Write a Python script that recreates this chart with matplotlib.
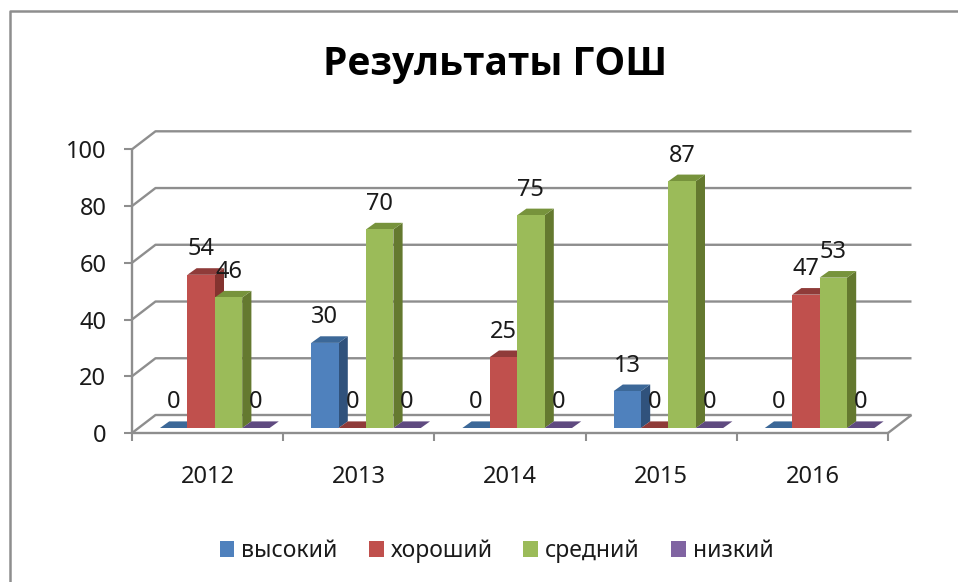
import matplotlib
matplotlib.use("Agg")
import matplotlib.pyplot as plt
from matplotlib.patches import Polygon, Patch
from matplotlib.lines import Line2D

plt.rcParams['font.family'] = ['Noto Sans', 'DejaVu Sans']

title = "Результаты ГОШ"
years = ["2012", "2013", "2014", "2015", "2016"]
series_names = ["высокий", "хороший", "средний", "низкий"]
vysokiy = [0, 30, 0, 13, 0]
horoshiy = [54, 0, 25, 0, 47]
sredniy = [46, 70, 75, 87, 53]
nizkiy = [0, 0, 0, 0, 0]
yticks = [0, 20, 40, 60, 80, 100]

front_colors = ["#4f81bd", "#c0504d", "#9bbb59", "#8064a2"]
top_colors = ["#3c6898", "#8f3b39", "#77933c", "#5f4a80"]
side_colors = ["#30527c", "#84332f", "#64792f", "#4f3d6b"]
line_gray = "#8e8e8e"
text_color = "#1a1a1a"

W, H = 958, 582
fig = plt.figure(figsize=(W / 100, H / 100), dpi=100, facecolor="white")

# axes box is the front of the fake 3D floor, in pixels of the reference
x0, x1, y0, y100 = 132, 888, 433, 149.3
ax = fig.add_axes([x0 / W, (H - y0) / H, (x1 - x0) / W, (y0 - y100) / H])
ax.set_xlim(0, len(years))
ax.set_ylim(0, 100)
ax.patch.set_visible(False)
for name, spine in ax.spines.items():
    spine.set_visible(False)

px_x = len(years) / (x1 - x0)   # data units per pixel
px_y = 100 / (y0 - y100)

# depth of the chart wall and of each bar
wall_dx, wall_dy = 23.5 * px_x, 18 * px_y
bar_dx, bar_dy = 9.2 * px_x, 6.6 * px_y
bar_w = 27.4 * px_x
first_bar = 28 * px_x
base_y = 5 * px_y

# walls and axes
line_kw = dict(color=line_gray, lw=1.7, clip_on=False, solid_capstyle="butt")
for v in yticks:
    ax.plot([0, wall_dx, len(years) + wall_dx], [v, v + wall_dy, v + wall_dy], zorder=1, **line_kw)
ax.plot([len(years), len(years) + wall_dx], [0, wall_dy], zorder=1, **line_kw)
ax.plot([0, 0], [0, 100], zorder=1, **line_kw)
ax.plot([0, len(years)], [0, 0], zorder=1, **line_kw)

ax.set_yticks(yticks)
ax.set_xticks(range(len(years) + 1))
ax.set_xticklabels([])
ax.tick_params(axis="both", length=6, width=1.5, color=line_gray, labelcolor=text_color,
               labelsize=17, pad=12.5)

# year labels sit between the ticks
for i, year in enumerate(years):
    ax.annotate(year, (i + 0.5, 0), xytext=(0, -44), textcoords="offset pixels",
                ha="center", va="center", fontsize=17, color=text_color)

# bars
all_series = [vysokiy, horoshiy, sredniy, nizkiy]
z = 3
for i in range(len(years)):
    for s, values in enumerate(all_series):
        v = values[i]
        left = i + first_bar + s * bar_w
        right = left + bar_w
        bottom = base_y
        top = base_y + v
        side = [(right, bottom), (right + bar_dx, bottom + bar_dy),
                (right + bar_dx, top + bar_dy), (right, top)]
        lid = [(left, top), (left + bar_dx, top + bar_dy),
               (right + bar_dx, top + bar_dy), (right, top)]
        ax.add_patch(Polygon(side, fc=side_colors[s], ec="none", zorder=z, clip_on=False))
        ax.add_patch(Polygon(lid, fc=top_colors[s], ec="none", zorder=z, clip_on=False))
        ax.bar(left, v, bar_w, bottom=bottom, align="edge", color=front_colors[s], zorder=z, clip_on=False)
        z += 1

# value labels, on top of all bars
for i in range(len(years)):
    for s, values in enumerate(all_series):
        v = values[i]
        center = i + first_bar + (s + 0.5) * bar_w
        ax.text(center, base_y + v + 25.5 * px_y, str(v), ha="center", va="center",
                fontsize=17, color=text_color, zorder=100, clip_on=False)

fig.text(495 / W, 1 - 65 / H, title, ha="center", va="center", fontsize=28,
         fontweight="bold", color="black", family="Open Sans")

handles = [Patch(fc=c, ec="none") for c in front_colors]
fig.legend(handles, series_names, loc="center", bbox_to_anchor=(496.5 / W, 1 - 551 / H), ncol=4,
           frameon=False, fontsize=16.5, labelcolor=text_color, handlelength=0.65, handleheight=0.65,
           handletextpad=0.3, columnspacing=1.35, borderpad=0)

# chart frame
fig.add_artist(Line2D([10 / W, 10 / W, 1], [0, 1 - 11 / H, 1 - 11 / H], color=line_gray, lw=1.8))

fig.savefig("out.png", dpi=100)
